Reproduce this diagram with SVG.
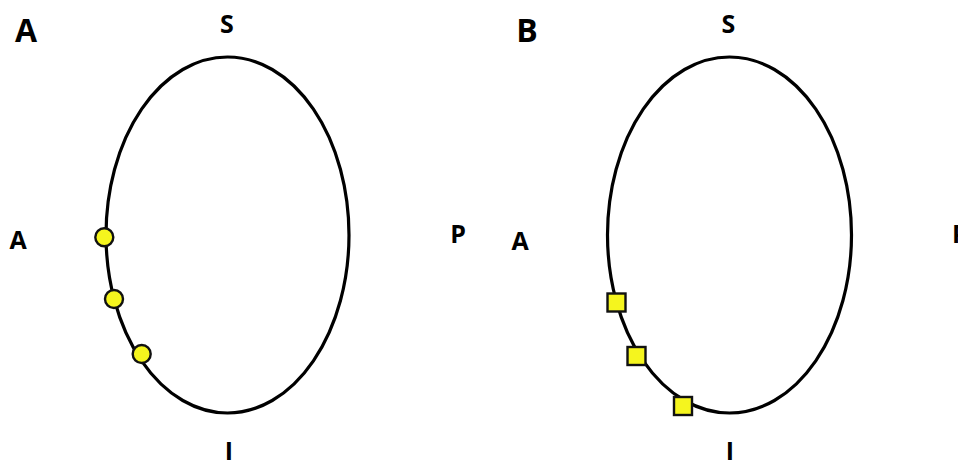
<svg xmlns="http://www.w3.org/2000/svg" width="958" height="460" viewBox="0 0 958 460">
<style>
.orbit{fill:none;stroke:#000;stroke-width:3.2}
.mk{fill:#f5f51e;stroke:#111;stroke-width:2.4}
.pl{font-family:"Open Sans","Liberation Sans",sans-serif;font-weight:bold;font-size:32px;text-anchor:middle;fill:#000}
.lb{font-family:"Open Sans","Liberation Sans",sans-serif;font-weight:bold;font-size:25px;text-anchor:middle;fill:#000}
</style>
<rect width="958" height="460" fill="#fff"/>
<g id="panelA">
  <text class="pl" x="26" y="42">A</text>
  <text class="lb" x="227" y="33">S</text>
  <text class="lb" x="18" y="249">A</text>
  <text class="lb" x="458" y="243">P</text>
  <text class="lb" x="229" y="460">I</text>
  <ellipse id="orbitA" class="orbit" cx="227.5" cy="235" rx="121.5" ry="178"/>
  <g id="circles">
    <circle class="mk" cx="104.3" cy="237.3" r="9"/>
    <circle class="mk" cx="114" cy="299" r="9"/>
    <circle class="mk" cx="141.7" cy="354" r="9"/>
  </g>
</g>
<g id="panelB">
  <text class="pl" x="527" y="42">B</text>
  <text class="lb" x="728.5" y="33">S</text>
  <text class="lb" x="520" y="250">A</text>
  <text class="lb" x="952" y="243" style="text-anchor:start">P</text>
  <text class="lb" x="730" y="460">I</text>
  <ellipse id="orbitB" class="orbit" cx="729.5" cy="235" rx="122" ry="178"/>
  <g id="squares">
    <rect class="mk" x="607.5" y="293.5" width="18" height="18"/>
    <rect class="mk" x="627.5" y="347" width="18" height="18"/>
    <rect class="mk" x="674" y="397" width="18" height="18"/>
  </g>
</g>
</svg>
